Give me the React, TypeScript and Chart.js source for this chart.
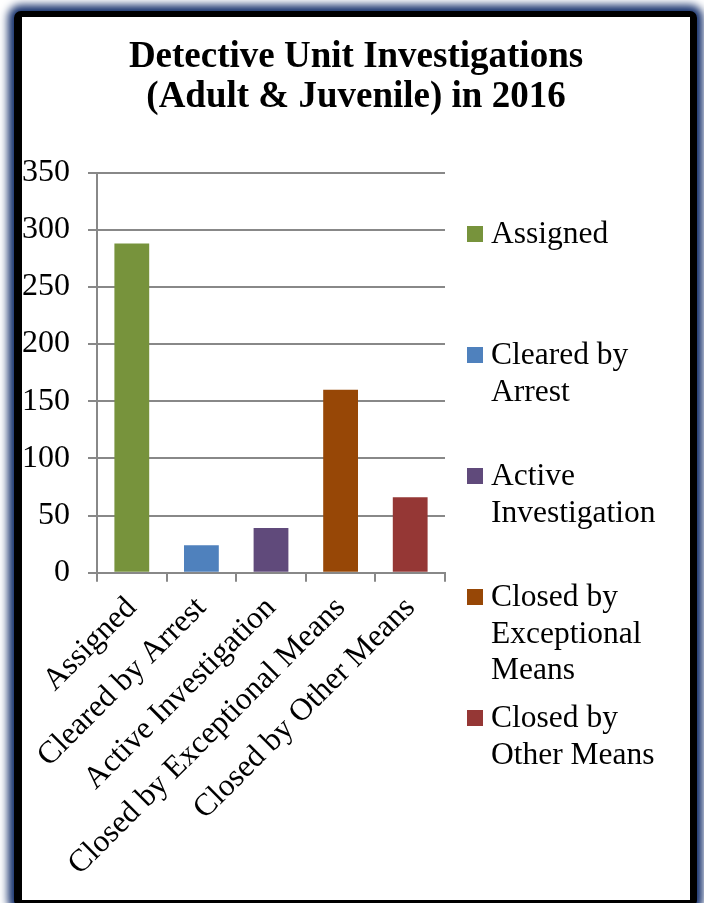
import React, { useEffect, useRef } from "react";
import { Chart, registerables } from "chart.js";

Chart.register(...registerables);

const categories = [
  "Assigned",
  "Cleared by Arrest",
  "Active Investigation",
  "Closed by Exceptional Means",
  "Closed by Other Means",
];
const counts = [288, 24, 39, 160, 66];
const barColors = ["#77933C", "#4F81BD", "#604A7B", "#974706", "#953735"];
const titleLines = ["Detective Unit Investigations", "(Adult & Juvenile) in 2016"];
const yMin = 0;
const yMax = 350;
const yStep = 50;

const FONT = "'Liberation Serif', 'Times New Roman', serif";
const CANVAS_W = 668;
const CANVAS_H = 883;

function wrapText(ctx: CanvasRenderingContext2D, text: string, maxW: number): string[] {
  const words = text.split(" ");
  const lines: string[] = [];
  let cur = "";
  for (const w of words) {
    const test = cur ? cur + " " + w : w;
    if (cur && ctx.measureText(test).width > maxW) {
      lines.push(cur);
      cur = w;
    } else {
      cur = test;
    }
  }
  if (cur) lines.push(cur);
  return lines;
}

const sideLegend = {
  id: "sideLegend",
  afterDraw(chart: any) {
    const ctx: CanvasRenderingContext2D = chart.ctx;
    const boxX = chart.chartArea.right + 22;
    const textX = boxX + 24;
    const firstBase = 226;
    const step = 121;
    const lineH = 36.7;
    ctx.save();
    ctx.font = `31.5px ${FONT}`;
    ctx.textBaseline = "alphabetic";
    ctx.textAlign = "left";
    categories.forEach((label, i) => {
      const base = firstBase + i * step;
      ctx.fillStyle = barColors[i];
      ctx.fillRect(boxX, base - 17, 16, 16);
      ctx.fillStyle = "#000";
      wrapText(ctx, label, 195).forEach((line, j) => {
        ctx.fillText(line, textX, base + j * lineH);
      });
    });
    ctx.restore();
  },
};

const centerTitle = {
  id: "centerTitle",
  afterLayout(chart: any) {
    const t = chart.titleBlock;
    if (t) {
      t.left = 0;
      t.right = chart.width;
      t.width = chart.width;
    }
  },
};

export default function App() {
  const ref = useRef<HTMLCanvasElement | null>(null);

  useEffect(() => {
    if (!ref.current) return;
    const chart = new Chart(ref.current, {
      type: "bar",
      data: {
        labels: categories,
        datasets: [
          {
            label: "Investigations",
            data: counts,
            backgroundColor: barColors,
            borderWidth: 0,
            categoryPercentage: 1,
            barPercentage: 0.5,
          },
        ],
      },
      options: {
        animation: false,
        responsive: false,
        layout: { padding: { left: 0, top: 0, bottom: 0, right: 245 } },
        plugins: {
          legend: { display: false },
          tooltip: { enabled: false },
          title: {
            display: true,
            text: titleLines,
            color: "#000",
            font: { family: FONT, size: 37, weight: "bold", lineHeight: 40 / 37 },
            padding: { top: 20.5, bottom: 55 },
          },
        },
        scales: {
          x: {
            offset: true,
            grid: {
              offset: true,
              drawOnChartArea: false,
              drawTicks: true,
              tickLength: 9,
              color: "#888888",
              lineWidth: 2,
            },
            border: { color: "#888888", width: 2 },
            ticks: {
              color: "#000",
              font: { family: FONT, size: 31.5 },
              minRotation: 45,
              maxRotation: 45,
              autoSkip: false,
              padding: 8,
            },
            afterFit(scale: any) {
              scale.height = CANVAS_H - 555.7;
            },
          },
          y: {
            min: yMin,
            max: yMax,
            ticks: {
              stepSize: yStep,
              color: "#000",
              font: { family: FONT, size: 32 },
              padding: 18,
            },
            grid: {
              color: "#888888",
              lineWidth: 2,
              tickLength: 9,
              drawTicks: true,
            },
            border: { color: "#888888", width: 2 },
            afterFit(scale: any) {
              scale.width = 75;
            },
          },
        },
      },
      plugins: [sideLegend, centerTitle],
    });
    return () => chart.destroy();
  }, []);

  return (
    <div
      style={{
        position: "fixed",
        left: 0,
        top: 0,
        width: 704,
        height: 903,
        background: "#fff",
        overflow: "hidden",
      }}
    >
      <div
        style={{
          position: "absolute",
          left: 14,
          top: 11,
          width: CANVAS_W,
          height: CANVAS_H,
          borderStyle: "solid",
          borderColor: "#000",
          borderWidth: "6px 7px 7px 8px",
          borderRadius: 7,
          background: "#fff",
          boxShadow: "0 0 8px 6px #15306c",
        }}
      >
        <canvas
          ref={ref}
          width={CANVAS_W}
          height={CANVAS_H}
          style={{ display: "block", width: CANVAS_W, height: CANVAS_H }}
        />
      </div>
    </div>
  );
}
